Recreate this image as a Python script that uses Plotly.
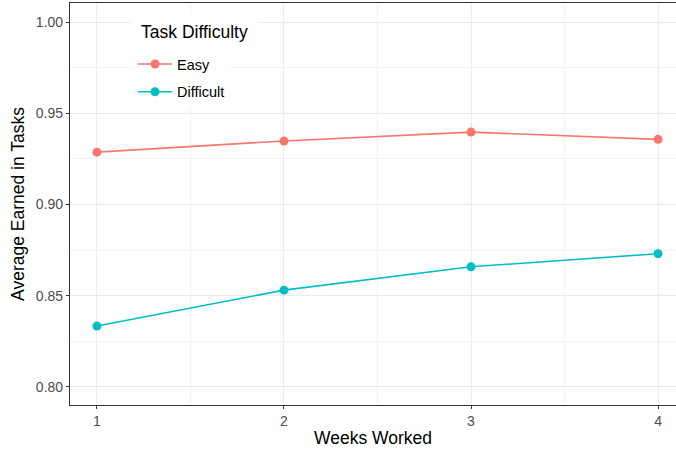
import plotly.graph_objects as go

weeks = [1, 2, 3, 4]
easy = [0.9287, 0.9348, 0.9397, 0.9357]
difficult = [0.8333, 0.8530, 0.8658, 0.8730]
series_names = ["Easy", "Difficult"]
colors = ["#F8766D", "#00BFC4"]
legend_title = "Task Difficulty"

fig = go.Figure()
for name, vals, c in zip(series_names, [easy, difficult], colors):
    fig.add_trace(go.Scatter(x=weeks, y=vals, mode="lines+markers", name=name,
                             legendgroup=name,
                             line=dict(color=c, width=1.6),
                             marker=dict(color=c, size=9)))

font = "Liberation Sans, Arial, sans-serif"
fig.add_annotation(xref="paper", yref="paper", x=0.1007, y=0.972, xanchor="left", yanchor="top",
                   text=legend_title, showarrow=False, align="center", valign="middle",
                   width=125, height=34, bgcolor="white", borderpad=0,
                   font=dict(size=17.5, color="black"))
fig.update_layout(
    width=676, height=453,
    margin=dict(l=70, r=0, t=3, b=48, autoexpand=False),
    plot_bgcolor="white", paper_bgcolor="white",
    font=dict(family=font, color="black"),
    legend=dict(x=0.1040, y=0.888, xanchor="left", yanchor="top",
                bgcolor="white", borderwidth=0,
                font=dict(size=14.5, color="black"),
                itemwidth=34, tracegroupgap=6, entrywidth=80),
    xaxis=dict(range=[0.856, 4.096], tickvals=weeks, ticktext=[str(w) for w in weeks],
               automargin=False,
               showgrid=True, gridcolor="#EBEBEB", gridwidth=1.1,
               minor=dict(tickvals=[1.5, 2.5, 3.5], showgrid=True, gridcolor="#F2F2F2", gridwidth=0.6),
               showline=True, linecolor="#333333", linewidth=1.2, mirror=True,
               ticks="outside", ticklen=3, tickcolor="#333333",
               tickfont=dict(size=14, color="#4D4D4D"), zeroline=False,
               title=dict(text="Weeks Worked", font=dict(size=17.5), standoff=3)),
    yaxis=dict(range=[0.79, 1.0105], tickvals=[0.80, 0.85, 0.90, 0.95, 1.00],
               ticktext=["0.80", "0.85", "0.90", "0.95", "1.00"],
               automargin=False,
               showgrid=True, gridcolor="#EBEBEB", gridwidth=1.1,
               minor=dict(tickvals=[0.825, 0.875, 0.925, 0.975], showgrid=True, gridcolor="#F2F2F2", gridwidth=0.6),
               showline=True, linecolor="#333333", linewidth=1.2, mirror=False,
               ticks="outside", ticklen=3, tickcolor="#333333",
               tickfont=dict(size=14, color="#4D4D4D"), zeroline=False,
               title=dict(text="Average Earned in Tasks", font=dict(size=17.5), standoff=6)),
)
fig.write_html("out.html", config={"displayModeBar": False},
               post_script="document.body.style.margin='0px';")
